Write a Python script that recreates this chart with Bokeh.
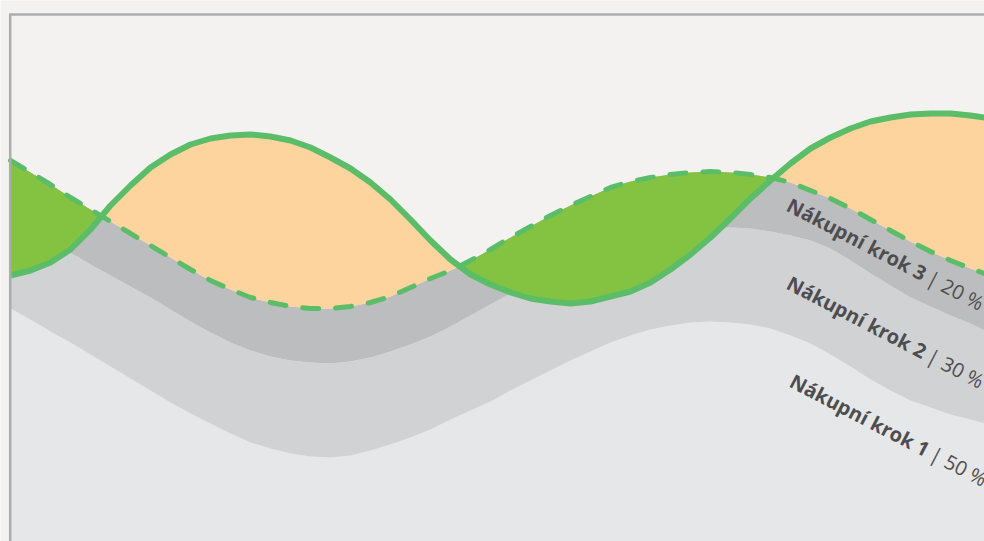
import numpy as np
from bokeh.plotting import figure
from bokeh.models import Range1d
from bokeh.core.properties import value
from bokeh.embed import file_html
from bokeh.resources import INLINE

# ---- data (position along the funnel, height of each curve) ----
x_pos = [10, 30, 50, 70, 90, 110, 130, 150, 170, 190, 210, 230, 250, 270, 290,
         310, 330, 350, 370, 390, 410, 430, 450, 470, 490, 510, 530, 550, 570,
         590, 610, 630, 650, 670, 690, 710, 730, 750, 770, 790, 810, 830, 850,
         870, 890, 910, 930, 950, 970, 984]

# top of "Nákupní krok 1" (lightest layer)
step1_top = [233, 222, 210, 199, 187, 175, 163, 151, 139, 128, 118, 108, 99, 93,
             88, 85, 84, 86, 91, 97, 104, 112, 122, 131, 140, 151, 161, 171, 181,
             190, 199, 206, 212, 216, 219, 220, 219, 217, 213, 206, 198, 187, 175,
             162, 151, 141, 134, 127, 122, 118]
# top of "Nákupní krok 2"
step2_top = [326, 314, 301, 289, 277, 266, 255, 244, 232, 220, 209, 199, 191, 185,
             181, 179, 178, 180, 184, 190, 197, 205, 215, 226, 237, 248, 258, 268,
             277, 285, 292, 298, 303, 307, 310, 313, 314, 313, 310, 306, 301, 293,
             281, 268, 256, 244, 235, 226, 218, 211]
# top of "Nákupní krok 3" (dashed target line)
step3_top = [381, 369, 357, 344, 332, 320, 308, 296, 284, 272, 261, 252, 244, 239,
             235, 233, 233, 235, 239, 245, 254, 263, 271, 281, 292, 304, 315, 326,
             336, 345, 354, 360, 364, 367, 369, 370, 369, 367, 364, 359, 351, 343,
             333, 322, 311, 300, 290, 281, 273, 268]
# actual (solid green line)
actual = [266, 271, 279, 292, 312, 336, 356, 374, 387, 397, 403, 406, 407, 405,
          401, 394, 384, 373, 359, 342, 322, 301, 282, 267, 257, 249, 243, 240,
          238, 240, 245, 250, 259, 272, 287, 304, 323, 343, 361, 378, 393, 404,
          413, 420, 424, 427, 428, 428, 426, 424]

labels_bold = ["Nákupní krok 3", "Nákupní krok 2", "Nákupní krok 1"]
labels_share = ["| 20 %", "| 30 %", "| 50 %"]

# ---- styles ----
BG = "#f3f2f1"
GRAY1, GRAY2, GRAY3 = "#e6e7e8", "#d1d2d4", "#bcbdbf"
ORANGE = "#fdd39e"
GREEN_FILL = "#84c341"
GREEN_LINE = "#5cbd69"
TEXT = "#4d4d4f"
BORDER = "#abacae"

x = np.array(x_pos, dtype=float)
s1 = np.array(step1_top, dtype=float)
s2 = np.array(step2_top, dtype=float)
s3 = np.array(step3_top, dtype=float)
ac = np.array(actual, dtype=float)

# insert crossing points between actual and target so the two fills meet cleanly
xs, a_, b_ = [], [], []
for i in range(len(x) - 1):
    xs.append(x[i]); a_.append(ac[i]); b_.append(s3[i])
    d0 = ac[i] - s3[i]
    d1 = ac[i + 1] - s3[i + 1]
    if d0 * d1 < 0:
        t = d0 / (d0 - d1)
        xc = x[i] + t * (x[i + 1] - x[i])
        yc = ac[i] + t * (ac[i + 1] - ac[i])
        xs.append(xc); a_.append(yc); b_.append(yc)
xs.append(x[-1]); a_.append(ac[-1]); b_.append(s3[-1])
xs = np.array(xs); a_ = np.array(a_); b_ = np.array(b_)

p = figure(width=984, height=541, output_backend="svg", toolbar_location=None,
           x_range=Range1d(0, 984), y_range=Range1d(0, 541),
           min_border=0, min_border_left=0, min_border_right=0,
           min_border_top=0, min_border_bottom=0)
p.axis.visible = False
p.grid.visible = False
p.outline_line_color = None
p.background_fill_color = BG
p.border_fill_color = BG

# stacked step layers
p.varea(x=x, y1=0, y2=s1, fill_color=GRAY1)
p.varea(x=x, y1=s1, y2=s2, fill_color=GRAY2)
p.varea(x=x, y1=s2, y2=s3, fill_color=GRAY3)

# gap between actual and target
p.varea(x=xs, y1=b_, y2=np.maximum(a_, b_), fill_color=ORANGE)
p.varea(x=xs, y1=np.minimum(a_, b_), y2=b_, fill_color=GREEN_FILL)

# target (dashed) and actual (solid)
p.line(x, s3, line_color=GREEN_LINE, line_width=5, line_dash="16 17",
       line_cap="round", line_join="round")
p.line(x, ac, line_color=GREEN_LINE, line_width=6, line_join="round")

# labels
ang = np.deg2rad(-27.5)
lab_x = [788, 788, 791]
lab_y = [338, 260, 162]
L = 158
p.text(x=lab_x, y=lab_y, text=labels_bold, angle=ang,
       text_font=value("Open Sans"), text_font_style="bold",
       text_font_size="20px", text_color=TEXT,
       text_align="left", text_baseline="alphabetic")
p.text(x=[v + L * np.cos(ang) for v in lab_x],
       y=[v + L * np.sin(ang) for v in lab_y],
       text=labels_share, angle=ang,
       text_font=value("Open Sans"), text_font_style="normal",
       text_font_size="20px", text_color=TEXT,
       text_align="left", text_baseline="alphabetic")

# left and top frame lines (meeting at the corner)
p.segment(x0=[9.7, 8.5], y0=[-5, 527], x1=[9.7, 990], y1=[527, 527],
          line_color=BORDER, line_width=2.5)

open("out.html", "w").write(file_html(p, INLINE))
